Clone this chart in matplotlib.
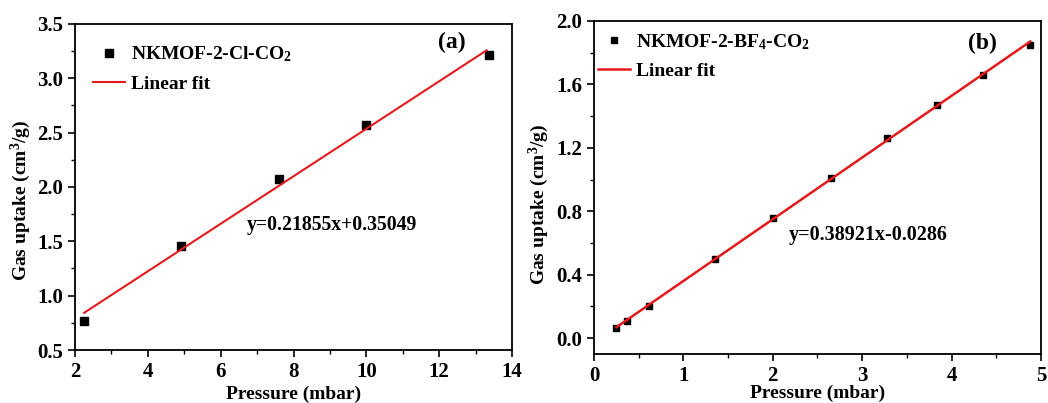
import matplotlib
matplotlib.use("Agg")
import matplotlib.pyplot as plt
import numpy as np
from matplotlib.ticker import MultipleLocator

# Panel (a) data
xa = [2.25, 4.9, 7.6, 10.0, 13.37]
ya = [0.77, 1.46, 2.07, 2.57, 3.21]
slope_a, icpt_a = 0.21855, 0.35049
fit_a_x = [2.25, 13.3]

# Panel (b) data
xb = [0.25, 0.37, 0.61, 1.35, 2.0, 2.65, 3.28, 3.84, 4.35, 4.88]
yb = [0.065, 0.105, 0.20, 0.50, 0.76, 1.01, 1.26, 1.47, 1.66, 1.85]
slope_b, icpt_b = 0.38921, -0.0286
fit_b_x = [0.25, 4.88]

plt.rcParams['font.family'] = ['Liberation Serif', 'DejaVu Serif']
plt.rcParams['font.weight'] = 'bold'
plt.rcParams['mathtext.fontset'] = 'custom'
plt.rcParams['mathtext.rm'] = 'Liberation Serif:bold'
plt.rcParams['mathtext.it'] = 'Liberation Serif:bold'
plt.rcParams['mathtext.bf'] = 'Liberation Serif:bold'

fig = plt.figure(figsize=(10.48, 4.03), dpi=100)
axa = fig.add_axes([0.0716, 0.1315, 0.417, 0.809])
axb = fig.add_axes([0.5668, 0.1216, 0.4265, 0.8263])

def style(ax):
    for s in ax.spines.values():
        s.set_linewidth(1.3)
    ax.tick_params(which='major', direction='out', length=5, width=1.2, labelsize=15, top=False, right=False)
    ax.tick_params(which='minor', direction='out', length=3, width=1.0, top=False, right=False)
    for lab in ax.get_xticklabels() + ax.get_yticklabels():
        lab.set_fontweight('bold')

# Panel a
axa.plot(xa, ya, 's', color='black', markersize=6, linestyle='none', label=r'NKMOF-2-Cl-CO$_2$')
fx = np.array(fit_a_x)
axa.plot(fx, slope_a * fx + icpt_a, color='#e31a1c', lw=1.5, label='Linear fit')
axa.set_xlim(2, 14)
axa.set_ylim(0.5, 3.5)
axa.xaxis.set_major_locator(MultipleLocator(2))
axa.xaxis.set_minor_locator(MultipleLocator(1))
axa.set_yticks(np.arange(0.5, 3.51, 0.5))
axa.set_yticklabels([f"{v:.1f}" for v in np.arange(0.5, 3.51, 0.5)])
axa.yaxis.set_minor_locator(MultipleLocator(0.25))
axa.set_xlabel('Pressure (mbar)', fontsize=14, fontweight='bold', labelpad=3)
axa.set_ylabel(r'Gas uptake (cm$^3$/g)', fontsize=14, fontweight='bold')
axa.yaxis.set_label_coords(-0.096, 0.46)
axa.text(0.863, 0.942, '(a)', transform=axa.transAxes, fontsize=17, fontweight='bold', ha='center', va='center')
axa.text(0.394, 0.383, 'y=0.21855x+0.35049', transform=axa.transAxes, fontsize=14.2, fontweight='bold', ha='left', va='center')
axa.legend(loc='upper left', bbox_to_anchor=(0.001, 0.99), frameon=False, handlelength=1.65, handletextpad=0.3, labelspacing=0.55, prop={'weight': 'bold', 'size': 14})
style(axa)

# Panel b
axb.plot(xb, yb, 's', color='black', markersize=5, linestyle='none', label=r'NKMOF-2-BF$_4$-CO$_2$')
fx = np.array(fit_b_x)
axb.plot(fx, slope_b * fx + icpt_b, color='#e31a1c', lw=1.8, label='Linear fit')
axb.set_xlim(0, 5)
axb.set_ylim(-0.1, 2.0)
axb.xaxis.set_major_locator(MultipleLocator(1))
axb.xaxis.set_minor_locator(MultipleLocator(0.5))
axb.set_yticks(np.arange(0.0, 2.01, 0.4))
axb.set_yticklabels([f"{v:.1f}" for v in np.arange(0.0, 2.01, 0.4)])
axb.yaxis.set_minor_locator(MultipleLocator(0.2))
axb.set_xlabel('Pressure (mbar)', fontsize=14, fontweight='bold', labelpad=-1)
axb.set_ylabel(r'Gas uptake (cm$^3$/g)', fontsize=14, fontweight='bold')
axb.yaxis.set_label_coords(-0.096, 0.45)
axb.text(0.868, 0.934, '(b)', transform=axb.transAxes, fontsize=17, fontweight='bold', ha='center', va='center')
axb.text(0.436, 0.357, 'y=0.38921x-0.0286', transform=axb.transAxes, fontsize=14.5, fontweight='bold', ha='left', va='center')
axb.legend(loc='upper left', bbox_to_anchor=(-0.03, 1.02), frameon=False, handlelength=1.65, handletextpad=0.3, labelspacing=0.55, prop={'weight': 'bold', 'size': 14})
style(axb)

fig.savefig('out.png', dpi=100)
